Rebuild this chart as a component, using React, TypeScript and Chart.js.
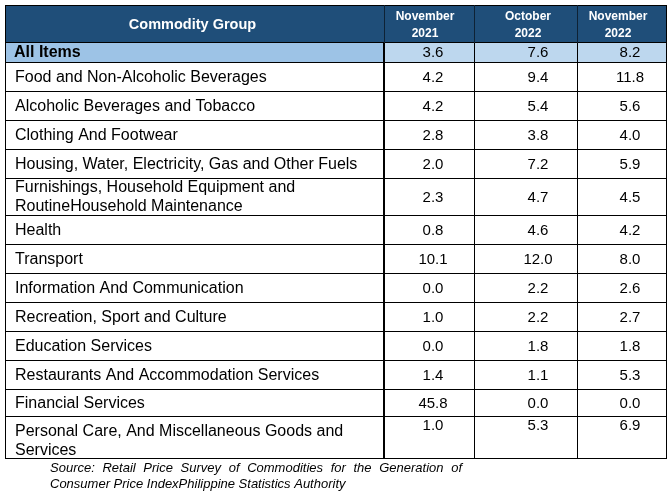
import React, { useEffect, useRef } from "react";
import { Chart, registerables } from "chart.js";

Chart.register(...registerables);

// ---------- data ----------
const headerTitle = "Commodity Group";
const columnLabels = [
  ["November", "2021"],
  ["October", "2022"],
  ["November", "2022"],
];
const categories = [
  "All Items",
  "Food and Non-Alcoholic Beverages",
  "Alcoholic Beverages and Tobacco",
  "Clothing And Footwear",
  "Housing, Water, Electricity, Gas and Other Fuels",
  "Furnishings, Household Equipment and RoutineHousehold Maintenance",
  "Health",
  "Transport",
  "Information And Communication",
  "Recreation, Sport and Culture",
  "Education Services",
  "Restaurants And Accommodation Services",
  "Financial Services",
  "Personal Care, And Miscellaneous Goods and Services",
];
const nov2021 = [3.6, 4.2, 4.2, 2.8, 2.0, 2.3, 0.8, 10.1, 0.0, 1.0, 0.0, 1.4, 45.8, 1.0];
const oct2022 = [7.6, 9.4, 5.4, 3.8, 7.2, 4.7, 4.6, 12.0, 2.2, 2.2, 1.8, 1.1, 0.0, 5.3];
const nov2022 = [8.2, 11.8, 5.6, 4.0, 5.9, 4.5, 4.2, 8.0, 2.6, 2.7, 1.8, 5.3, 0.0, 6.9];
const sourceLines = [
  "Source: Retail Price Survey of Commodities for the Generation of",
  "Consumer Price IndexPhilippine Statistics Authority",
];

// ---------- layout (not data) ----------
const W = 672;
const H = 495;
const TABLE_LEFT = 5;
const TABLE_TOP = 5;
const COL_WIDTHS = [379, 90, 103, 89];
const ROW_HEIGHTS = [37, 20, 29, 29, 29, 29, 37, 29, 29, 29, 29, 29, 29, 27, 42];
const VALUE_X_SHIFT = [4, 12.5, 8.5];
const HEADER_X_SHIFT = [-4, 2.5, -3.5];
const FONT = "'Liberation Sans', Arial, sans-serif";
const HEADER_BG = "#1F4E79";
const ALL_LABEL_BG = "#9DC3E6";
const ALL_VALUE_BG = "#BDD7EE";

function wrap(ctx: CanvasRenderingContext2D, text: string, maxW: number): string[] {
  const words = text.split(" ");
  const lines: string[] = [];
  let cur = "";
  for (const w of words) {
    const t = cur ? cur + " " + w : w;
    if (ctx.measureText(t).width > maxW && cur) {
      lines.push(cur);
      cur = w;
    } else cur = t;
  }
  if (cur) lines.push(cur);
  return lines;
}

const tablePlugin = {
  id: "tablePlugin",
  afterDraw(chart: any) {
    const { ctx, scales } = chart;
    const X = (u: number) => scales.x.getPixelForValue(u);
    const Y = (u: number) => scales.y.getPixelForValue(u);
    const colEdges = [TABLE_LEFT];
    COL_WIDTHS.forEach((w) => colEdges.push(colEdges[colEdges.length - 1] + w));
    const rowEdges = [TABLE_TOP];
    ROW_HEIGHTS.forEach((h) => rowEdges.push(rowEdges[rowEdges.length - 1] + h));
    const series = [nov2021, oct2022, nov2022];

    ctx.save();
    // backgrounds
    ctx.fillStyle = HEADER_BG;
    ctx.fillRect(X(colEdges[0]), Y(rowEdges[0]), X(colEdges[4]) - X(colEdges[0]), Y(rowEdges[1]) - Y(rowEdges[0]));
    ctx.fillStyle = ALL_LABEL_BG;
    ctx.fillRect(X(colEdges[0]), Y(rowEdges[1]), X(colEdges[1]) - X(colEdges[0]), Y(rowEdges[2]) - Y(rowEdges[1]));
    ctx.fillStyle = ALL_VALUE_BG;
    ctx.fillRect(X(colEdges[1]), Y(rowEdges[1]), X(colEdges[4]) - X(colEdges[1]), Y(rowEdges[2]) - Y(rowEdges[1]));

    // grid lines
    ctx.strokeStyle = "#000";
    ctx.lineWidth = 1;
    const hline = (yv: number, x0: number, x1: number) => {
      const py = Math.round(Y(yv)) + 0.5;
      ctx.beginPath();
      ctx.moveTo(X(x0), py);
      ctx.lineTo(X(x1) + 1, py);
      ctx.stroke();
    };
    const vline = (xv: number, y0: number, y1: number, lw = 1) => {
      ctx.lineWidth = lw;
      const px = Math.round(X(xv)) + (lw % 2 ? 0.5 : 0);
      ctx.beginPath();
      ctx.moveTo(px, Y(y0));
      ctx.lineTo(px, Y(y1) + 1);
      ctx.stroke();
      ctx.lineWidth = 1;
    };
    rowEdges.forEach((r) => hline(r, colEdges[0], colEdges[4]));
    colEdges.forEach((c, i) => {
      ctx.strokeStyle = "#000";
      vline(c, rowEdges[1], rowEdges[rowEdges.length - 1], i === 1 ? 2 : 1);
      ctx.strokeStyle = i === 0 || i === 4 ? "#000" : "#0e2235";
      vline(c, rowEdges[0], rowEdges[1], 1);
    });
    ctx.strokeStyle = "#000";

    // header text
    ctx.fillStyle = "#fff";
    ctx.textBaseline = "middle";
    ctx.textAlign = "center";
    ctx.font = `bold 14.5px ${FONT}`;
    const hMid = (Y(rowEdges[0]) + Y(rowEdges[1])) / 2;
    ctx.fillText(headerTitle, (X(colEdges[0]) + X(colEdges[1])) / 2 - 2, hMid + 1);
    ctx.font = `bold 12px ${FONT}`;
    columnLabels.forEach((lines, i) => {
      const cx = (X(colEdges[i + 1]) + X(colEdges[i + 2])) / 2 + HEADER_X_SHIFT[i];
      ctx.fillText(lines[0], cx, hMid - 7);
      ctx.fillText(lines[1], cx, hMid + 10);
    });

    // body
    ctx.fillStyle = "#000";
    categories.forEach((cat, r) => {
      const top = Y(rowEdges[r + 1]);
      const bot = Y(rowEdges[r + 2]);
      const mid = (top + bot) / 2;
      const isLast = r === categories.length - 1;
      ctx.textAlign = "left";
      ctx.font = r === 0 ? `bold 16px ${FONT}` : `16px ${FONT}`;
      const lines = wrap(ctx, cat, COL_WIDTHS[0] - 16);
      const lh = 19;
      let y0 = mid - ((lines.length - 1) * lh) / 2 + 1;
      if (isLast) y0 = bot - 7 - (lines.length - 1) * lh;
      lines.forEach((ln, k) => ctx.fillText(ln, X(colEdges[0]) + (r === 0 ? 9 : 10), y0 + k * lh));
      ctx.textAlign = "center";
      ctx.font = `15px ${FONT}`;
      series.forEach((s, c) => {
        const cx = (X(colEdges[c + 1]) + X(colEdges[c + 2])) / 2 + VALUE_X_SHIFT[c];
        const vy = isLast ? top + 10 : mid + 1;
        ctx.fillText(s[r].toFixed(1), cx, vy);
      });
    });

    // source note (justified first line)
    ctx.font = `italic 13px ${FONT}`;
    ctx.textAlign = "left";
    ctx.fillStyle = "#000";
    const sx = 50;
    const sw = 412;
    const words = sourceLines[0].split(" ");
    const total = words.reduce((a, w) => a + ctx.measureText(w).width, 0);
    const gap = (sw - total) / (words.length - 1);
    let cx = sx;
    words.forEach((w) => {
      ctx.fillText(w, cx, 468);
      cx += ctx.measureText(w).width + gap;
    });
    ctx.fillText(sourceLines[1], sx, 484);
    ctx.restore();
  },
};

export default function App() {
  const ref = useRef<HTMLCanvasElement | null>(null);
  useEffect(() => {
    document.body.style.margin = "0";
    if (!ref.current) return;
    const chart = new Chart(ref.current, {
      type: "scatter",
      data: { datasets: [{ data: [], pointRadius: 0 }] },
      options: {
        responsive: false,
        animation: false,
        layout: { padding: 0 },
        plugins: { legend: { display: false }, tooltip: { enabled: false } },
        scales: {
          x: { type: "linear", min: 0, max: W, display: false },
          y: { type: "linear", min: 0, max: H, reverse: true, display: false },
        },
      },
      plugins: [tablePlugin],
    });
    return () => chart.destroy();
  }, []);
  return (
    <div style={{ width: W, height: H, background: "#fff" }}>
      <canvas ref={ref} width={W} height={H} style={{ display: "block" }} />
    </div>
  );
}
